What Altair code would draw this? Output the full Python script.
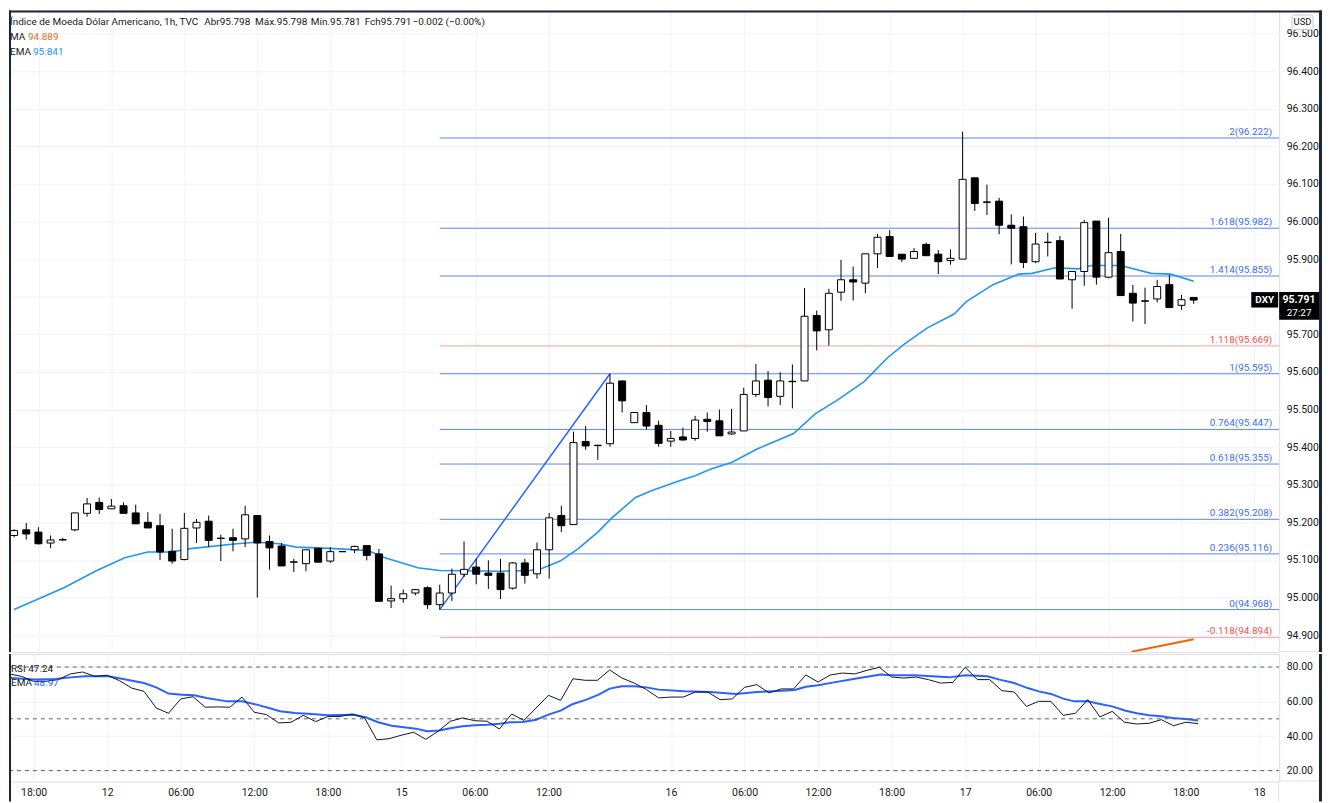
import json
import altair as alt
import pandas as pd

FONT = "Roboto"
TXT = "#131722"
GRID = "#f0f3fa"
SEP = "#e0e3eb"
FRAME = "#1e2537"

# ---------------- data ----------------
bar_k = list(range(98))
opens = [95.165, 95.180, 95.174, 95.145, 95.153, 95.180, 95.224, 95.253, 95.236, 95.244,
         95.225, 95.200, 95.191, 95.123, 95.101, 95.185, 95.203, 95.158, 95.159, 95.156,
         95.218, 95.149, 95.137, 95.094, 95.090, 95.131, 95.097, 95.122, 95.127, 95.138,
         95.116, 94.991, 94.997, 95.012, 95.026, 94.981, 95.012, 95.062, 95.081, 95.065,
         95.065, 95.025, 95.092, 95.063, 95.127, 95.218, 95.194, 95.415, 95.405, 95.409,
         95.576, 95.465, 95.492, 95.458, 95.416, 95.427, 95.423, 95.474, 95.470, 95.435,
         95.443, 95.540, 95.578, 95.535, 95.575, 95.576, 95.750, 95.712, 95.812, 95.845,
         95.836, 95.914, 95.960, 95.913, 95.902, 95.939, 95.913, 95.896, 95.900, 96.116,
         96.052, 96.054, 95.990, 95.986, 95.893, 95.944, 95.949, 95.845, 95.867, 96.001,
         95.852, 95.920, 95.809, 95.789, 95.794, 95.832, 95.777, 95.798]
highs = [95.182, 95.198, 95.187, 95.165, 95.159, 95.225, 95.265, 95.266, 95.262, 95.253,
         95.247, 95.227, 95.222, 95.183, 95.225, 95.209, 95.218, 95.167, 95.183, 95.244,
         95.218, 95.165, 95.145, 95.103, 95.127, 95.131, 95.134, 95.123, 95.138, 95.138,
         95.129, 95.032, 95.021, 95.023, 95.030, 95.034, 95.077, 95.149, 95.103, 95.099,
         95.103, 95.094, 95.103, 95.146, 95.225, 95.244, 95.441, 95.456, 95.406, 95.595,
         95.576, 95.492, 95.512, 95.470, 95.443, 95.452, 95.483, 95.492, 95.500, 95.502,
         95.558, 95.621, 95.602, 95.599, 95.620, 95.823, 95.763, 95.821, 95.898, 95.880,
         95.914, 95.967, 95.977, 95.913, 95.929, 95.944, 95.924, 95.926, 96.239, 96.116,
         96.098, 96.063, 96.019, 96.013, 95.970, 95.970, 95.961, 95.867, 96.004, 96.001,
         96.010, 95.967, 95.831, 95.824, 95.845, 95.858, 95.805, 95.798]
lows = [95.160, 95.154, 95.141, 95.131, 95.151, 95.176, 95.215, 95.222, 95.236, 95.224,
        95.196, 95.185, 95.100, 95.090, 95.099, 95.145, 95.134, 95.097, 95.123, 95.134,
        95.000, 95.074, 95.084, 95.068, 95.070, 95.094, 95.092, 95.121, 95.118, 95.099,
        94.990, 94.972, 94.986, 95.006, 94.970, 94.968, 94.991, 95.055, 95.035, 95.023,
        94.996, 95.021, 95.037, 95.050, 95.050, 95.174, 95.194, 95.393, 95.366, 95.401,
        95.492, 95.465, 95.447, 95.401, 95.401, 95.417, 95.417, 95.441, 95.430, 95.432,
        95.443, 95.533, 95.508, 95.512, 95.503, 95.576, 95.657, 95.670, 95.789, 95.790,
        95.809, 95.876, 95.907, 95.892, 95.902, 95.909, 95.860, 95.885, 95.900, 96.028,
        96.017, 95.966, 95.886, 95.876, 95.889, 95.907, 95.847, 95.768, 95.829, 95.832,
        95.849, 95.803, 95.734, 95.727, 95.785, 95.771, 95.765, 95.781]
closes = [95.178, 95.169, 95.143, 95.153, 95.154, 95.225, 95.249, 95.234, 95.243, 95.224,
          95.196, 95.185, 95.121, 95.097, 95.184, 95.200, 95.152, 95.157, 95.152, 95.220,
          95.145, 95.132, 95.084, 95.095, 95.127, 95.094, 95.122, 95.122, 95.136, 95.112,
          94.990, 94.997, 95.010, 95.021, 94.981, 95.012, 95.062, 95.075, 95.062, 95.059,
          95.021, 95.092, 95.059, 95.127, 95.212, 95.191, 95.412, 95.403, 95.404, 95.570,
          95.523, 95.492, 95.456, 95.410, 95.423, 95.419, 95.472, 95.468, 95.430, 95.440,
          95.540, 95.576, 95.532, 95.576, 95.574, 95.748, 95.709, 95.809, 95.845, 95.839,
          95.914, 95.958, 95.907, 95.900, 95.920, 95.909, 95.893, 95.902, 96.112, 96.048,
          96.051, 95.990, 95.982, 95.891, 95.940, 95.945, 95.847, 95.867, 95.997, 95.852,
          95.917, 95.803, 95.783, 95.788, 95.827, 95.771, 95.792, 95.791]

ema_k = [0.0, 4.1, 6.8, 9.1, 11.0, 12.9, 14.5, 18.3, 19.9, 21.8,
         23.2, 26.4, 29.1, 30.5, 33.2, 35.0, 40.0, 42.4, 43.4, 44.9,
         46.4, 48.0, 49.2, 51.1, 52.4, 54.6, 56.0, 57.3, 59.0, 61.1,
         62.7, 64.1, 65.9, 67.6, 69.9, 71.8, 73.2, 75.1, 77.3, 78.3,
         80.5, 82.6, 83.7, 85.6, 87.5, 88.6, 91.0, 93.5, 95.1, 97.0]
ema_v = [94.968, 95.026, 95.072, 95.106, 95.121, 95.121, 95.130, 95.143, 95.147, 95.143,
         95.134, 95.130, 95.125, 95.106, 95.079, 95.072, 95.070, 95.072, 95.077, 95.097,
         95.130, 95.174, 95.213, 95.266, 95.284, 95.309, 95.324, 95.342, 95.359, 95.395,
         95.417, 95.436, 95.489, 95.523, 95.574, 95.637, 95.674, 95.717, 95.754, 95.787,
         95.832, 95.860, 95.862, 95.877, 95.874, 95.883, 95.883, 95.862, 95.860, 95.841]

ma_k = [91.9, 97.0]
ma_v = [94.856, 94.889]

fib_ratio = ["2", "1.618", "1.414", "1.118", "1", "0.764", "0.618", "0.382", "0.236", "0", "-0.118"]
fib_price = [96.222, 95.982, 95.855, 95.669, 95.595, 95.447, 95.355, 95.208, 95.116, 94.968, 94.894]
fib_kind = ["b", "b", "b", "r", "b", "b", "b", "b", "b", "b", "r"]
fib_start_k = 35

trend_k = [35, 49]
trend_v = [94.968, 95.595]

rsi = [76.0, 74.6, 71.7, 71.7, 72.7, 76.0, 77.1, 74.6, 75.2, 72.1,
       67.8, 65.9, 56.3, 53.2, 61.5, 62.8, 56.7, 56.9, 56.7, 62.6,
       53.8, 52.4, 47.6, 48.0, 52.0, 48.4, 51.3, 51.3, 52.8, 50.5,
       37.8, 38.5, 40.5, 42.2, 38.1, 42.8, 48.6, 50.5, 48.9, 48.6,
       44.1, 52.8, 49.1, 56.3, 63.6, 60.7, 73.2, 72.3, 72.3, 78.3,
       73.6, 70.7, 66.9, 62.1, 62.6, 62.6, 65.5, 65.5, 61.1, 61.5,
       68.2, 69.8, 65.0, 67.3, 67.3, 75.4, 71.3, 75.4, 76.5, 76.0,
       78.1, 79.8, 74.2, 73.6, 74.2, 72.7, 70.7, 71.1, 79.8, 72.7,
       72.7, 66.3, 65.5, 57.2, 60.1, 60.1, 52.0, 53.2, 61.1, 51.1,
       54.3, 48.0, 47.0, 47.4, 49.5, 46.0, 48.0, 47.24]

rsi_ema_k = [0.1, 2.1, 3.8, 5.0, 6.2, 8.1, 9.3, 11.0, 12.0, 13.0,
             14.1, 15.1, 16.1, 17.8, 19.0, 20.2, 21.2, 22.1, 23.3, 24.7,
             26.0, 28.1, 29.1, 30.1, 31.2, 32.2, 33.2, 34.1, 35.1, 36.1,
             37.0, 38.0, 39.0, 40.0, 40.9, 41.9, 43.0, 44.0, 45.0, 46.0,
             47.1, 48.1, 49.0, 50.0, 51.0, 52.0, 53.0, 55.1, 57.2, 59.3,
             61.0, 63.1, 64.1, 65.0, 66.0, 67.3, 69.0, 70.0, 71.1, 72.0,
             73.9, 75.3, 76.7, 78.0, 79.8, 80.8, 82.0, 83.1, 84.0, 85.0,
             86.0, 86.9, 88.0, 89.0, 90.0, 91.1, 92.0, 93.0, 94.0, 94.9,
             96.0, 97.0]
rsi_ema_v = [73.6, 72.7, 73.0, 74.0, 74.6, 74.6, 73.1, 70.7, 68.2, 64.6,
             64.0, 63.6, 62.1, 60.1, 60.1, 58.2, 56.3, 54.4, 53.4, 52.8,
             52.0, 52.4, 50.9, 48.0, 46.0, 45.1, 44.3, 42.8, 43.2, 44.7,
             45.7, 46.2, 46.6, 47.2, 48.0, 48.2, 49.5, 52.4, 54.7, 58.6,
             61.1, 64.0, 67.5, 68.8, 68.8, 68.2, 66.9, 65.9, 65.5, 64.4,
             65.5, 66.3, 66.7, 68.6, 69.4, 71.1, 73.2, 74.4, 75.6, 75.2,
             75.2, 74.6, 74.0, 75.2, 74.6, 72.7, 70.7, 67.8, 65.9, 64.4,
             61.7, 60.1, 60.1, 58.6, 57.2, 54.7, 53.2, 52.0, 51.5, 50.5,
             49.9, 48.97]

rsi_levels = [80, 50, 20]
rsi_ticks = [20, 40, 60, 80]
price_ticks = [94.9, 95.0, 95.1, 95.2, 95.3, 95.4, 95.5, 95.6, 95.7, 95.8,
               95.9, 96.0, 96.1, 96.2, 96.3, 96.4, 96.5]
hidden_price_label = 95.8   # covered by the last-price tag in the reference
tick_k = [2, 8, 14, 20, 26, 32, 38, 44, 54, 60, 66, 72, 78, 84, 90, 96, 102]
tick_labels = ["18:00", "12", "06:00", "12:00", "18:00", "15", "06:00", "12:00", "16",
               "06:00", "12:00", "18:00", "17", "06:00", "12:00", "18:00", "18"]

header = ["Índice de Moeda Dólar Americano, 1h, TVC", "Abr95.798", "Máx.95.798",
          "Mín.95.781", "Fch95.791", "\u22120.002 (\u22120.00%)"]

# ---------------- layout ----------------
W, H1, H2 = 1275, 644, 128
x_scale = alt.Scale(domain=[-0.01, 103.62], nice=False, zero=False)
y_scale = alt.Scale(domain=[94.855, 96.561], nice=False, zero=False)
r_scale = alt.Scale(domain=[13.65, 87.5], nice=False, zero=False)

x_grid_axis = alt.Axis(values=tick_k, labels=False, ticks=False, domain=False, grid=True,
                       gridColor=GRID, title=None, minExtent=0, maxExtent=0)
label_expr = f"{json.dumps(tick_labels)}[indexof({json.dumps(tick_k)}, datum.value)]"
x_lab_axis = alt.Axis(values=tick_k, labelExpr=label_expr, ticks=False, tickSize=0, domain=False,
                      grid=True, gridColor=GRID, title=None, labelPadding=6, labelFont=FONT,
                      labelFontSize=10.5, labelColor=TXT, labelFlush=False)
y_axis = alt.Axis(orient="right", values=price_ticks,
                  labelExpr=f"abs(datum.value - {hidden_price_label}) < 0.001 ? '' : format(datum.value, '.3f')",
                  ticks=False, tickSize=0,
                  domain=False, grid=True, gridColor=GRID, title=None, labelPadding=7,
                  labelFont=FONT, labelFontSize=10.5, labelColor=TXT, labelFlush=False)
r_axis = alt.Axis(orient="right", values=rsi_ticks, format=".2f", ticks=False, tickSize=0,
                  domain=False, grid=True, gridColor=GRID, title=None, labelPadding=7,
                  labelFont=FONT, labelFontSize=10.5, labelColor=TXT, labelFlush=False)

X = lambda f: alt.X(f, type="quantitative", scale=x_scale, axis=x_grid_axis)
XR = lambda f: alt.X(f, type="quantitative", scale=x_scale, axis=x_lab_axis)
Y = lambda f: alt.Y(f, type="quantitative", scale=y_scale, axis=y_axis)
YR = lambda f: alt.Y(f, type="quantitative", scale=r_scale, axis=r_axis)

candles = pd.DataFrame({"k": bar_k, "open": opens, "high": highs, "low": lows, "close": closes})
ema_df = pd.DataFrame({"k": ema_k, "v": ema_v})
ma_df = pd.DataFrame({"k": ma_k, "v": ma_v})
fib_df = pd.DataFrame({"ratio": fib_ratio, "price": fib_price, "kind": fib_kind})
fib_df["k0"] = fib_start_k
fib_df["label"] = fib_df["ratio"] + "(" + fib_df["price"].map(lambda v: f"{v:.3f}") + ")"
trend_df = pd.DataFrame({"k": trend_k, "v": trend_v})
rsi_df = pd.DataFrame({"k": bar_k, "v": rsi})
rsi_ema_df = pd.DataFrame({"k": rsi_ema_k, "v": rsi_ema_v})
lvl_df = pd.DataFrame({"v": rsi_levels})
last_df = candles.tail(1).copy()
last_df["price"] = last_df["close"].map(lambda v: f"{v:.3f}")


def label(txt, x, y, color=TXT, size=10, weight="normal", align="left"):
    return alt.Chart(pd.DataFrame({"t": [txt]})).mark_text(
        align=align, baseline="middle", font=FONT, fontSize=size, color=color, fontWeight=weight
    ).encode(x=alt.value(x), y=alt.value(y), text="t:N")


def pix_rect(x, x2, y, y2, color):
    # filled rectangle without stroke: its bounds are exact, so the canvas is not padded
    return alt.Chart(pd.DataFrame({"a": [0]})).mark_rect(fill=color, strokeWidth=0).encode(
        x=alt.value(x), x2=alt.value(x2), y=alt.value(y), y2=alt.value(y2))


fib_color = alt.condition("datum.kind == 'r'", alt.value("#f4a3a0"), alt.value("#5b86f5"))
fib_tcolor = alt.condition("datum.kind == 'r'", alt.value("#ef5350"), alt.value("#3d6df2"))

wicks = alt.Chart(candles).mark_rule(color="#000000", strokeWidth=1, clip=True).encode(
    x=X("k"), y=Y("low"), y2="high")
bodies = alt.Chart(candles).mark_bar(size=7, stroke="#000000", strokeWidth=1, clip=True).encode(
    x=X("k"), y=Y("open"), y2="close",
    fill=alt.condition("datum.close >= datum.open", alt.value("#ffffff"), alt.value("#000000")))
fib_lines = alt.Chart(fib_df).mark_rule(strokeWidth=1).encode(
    x=X("k0"), x2=alt.value(W), y=Y("price"), color=fib_color)
fib_text = alt.Chart(fib_df).mark_text(align="right", baseline="bottom", dy=-1, font=FONT,
                                       fontSize=10).encode(
    x=alt.value(W - 7), y=Y("price"), text="label:N", color=fib_tcolor)
trend = alt.Chart(trend_df).mark_line(color="#2962ff", strokeWidth=1.5, clip=True).encode(
    x=X("k"), y=Y("v"))
ema_line = alt.Chart(ema_df).mark_line(color="#2196f3", strokeWidth=1.6, clip=True).encode(
    x=X("k"), y=Y("v"))
ma_line = alt.Chart(ma_df).mark_line(color="#f0620a", strokeWidth=2, clip=True).encode(
    x=X("k"), y=Y("v"))

tag_dxy = alt.Chart(last_df).mark_rect(color="#000000", yOffset=-8, y2Offset=7.5).encode(
    x=alt.value(W - 28), x2=alt.value(W - 1), y=Y("close"), y2="close")
tag_dxy_t = alt.Chart(last_df).mark_text(text="DXY", color="#ffffff", font=FONT, fontSize=10,
                                         fontWeight="bold", align="center", baseline="middle").encode(
    x=alt.value(W - 14.5), y=Y("close"))
tag_px = alt.Chart(last_df).mark_rect(color="#000000", yOffset=-8, y2Offset=19.7).encode(
    x=alt.value(W), x2=alt.value(W + 40), y=Y("close"), y2="close")
tag_px_t = alt.Chart(last_df).mark_text(color="#ffffff", font=FONT, fontSize=10.5, fontWeight="bold",
                                        align="center", baseline="middle", dy=-0.5).encode(
    x=alt.value(W + 20), y=Y("close"), text="price:N")
tag_tm_t = alt.Chart(last_df).mark_text(text="27:27", color="#ffffff", font=FONT, fontSize=10,
                                        align="center", baseline="middle", dy=13).encode(
    x=alt.value(W + 20), y=Y("close"))

usd_box = alt.Chart(pd.DataFrame({"a": [0]})).mark_rect(
    fill="#ffffff", stroke="#c8cbd3", strokeWidth=1, cornerRadius=2).encode(
    x=alt.value(W + 13), x2=alt.value(W + 34), y=alt.value(4.5), y2=alt.value(19))
usd_t = label("USD", W + 23.5, 12, size=9.5, align="center")

head_x = [1, 196, 247, 303, 357, 405]
head_layers = [label(t, x, 12) for t, x in zip(header, head_x)]

main = alt.layer(
    fib_lines, trend, ema_line, ma_line, wicks, bodies, fib_text,
    tag_dxy, tag_dxy_t, tag_px, tag_px_t, tag_tm_t, usd_box, usd_t,
    *head_layers,
    label("MA", 1, 27), label("94.889", 19, 27, color="#f26a1e"),
    label("EMA", 1, 42), label("95.841", 24, 42, color="#2196f3"),
    pix_rect(W, W + 40, H1 - 1, H1, SEP),
    pix_rect(0, 2, 0, H1, FRAME),
    pix_rect(0, W + 43, 0, 2, FRAME),
    pix_rect(W + 40, W + 43, 0, H1, FRAME),
).properties(width=W, height=H1)

levels = alt.Chart(lvl_df).mark_rule(color="#5d606b", strokeWidth=1, strokeDash=[4, 4]).encode(
    x=alt.value(0), x2=alt.value(W), y=YR("v"))
rsi_line = alt.Chart(rsi_df).mark_line(color="#131722", strokeWidth=1, clip=True).encode(
    x=XR("k"), y=YR("v"))
rsi_ema_line = alt.Chart(rsi_ema_df).mark_line(color="#2962ff", strokeWidth=2, clip=True).encode(
    x=XR("k"), y=YR("v"))

rsi_pane = alt.layer(
    levels, rsi_ema_line, rsi_line,
    label("RSI 47.24", 2, 15),
    label("EMA", 2, 29), label("48.97", 25, 29, color="#2962ff"),
    pix_rect(W, W + 40, H2 - 1, H2, SEP),
    pix_rect(W - 1, W, H2, H2 + 20, SEP),
    pix_rect(0, 2, 0, H2 + 20, FRAME),
    pix_rect(W + 40, W + 43, 0, H2 + 20, FRAME),
).properties(width=W, height=H2)

chart = alt.vconcat(main, rsi_pane, spacing=0, padding=0).configure_view(
    stroke=SEP, strokeWidth=1).configure(background="#ffffff")

chart.save("out.html", embed_options={"renderer": "svg", "actions": False})
